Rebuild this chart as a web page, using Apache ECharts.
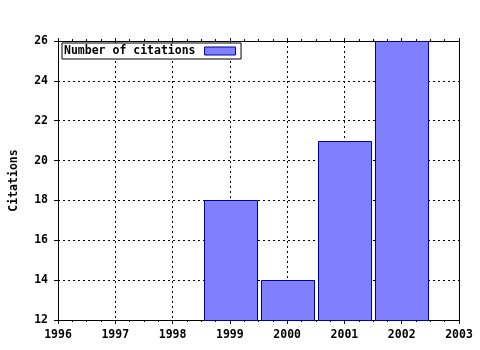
<!DOCTYPE html>
<html><head><meta charset="utf-8">
<script src="https://cdn.jsdelivr.net/npm/echarts@6/dist/echarts.min.js"></script>
<style>html,body{margin:0;padding:0;background:#fff}#c{width:480px;height:350px}</style>
</head><body><div id="c"></div>
<script>
const years = [1999, 2000, 2001, 2002];
const citations = [18, 14, 21, 26];
const xTicks = [1996, 1997, 1998, 1999, 2000, 2001, 2002, 2003];
const yTicks = [12, 14, 16, 18, 20, 22, 24, 26];
const seriesName = 'Number of citations';
const yName = 'Citations';

const font = 'DejaVu Sans Mono';
const yMin = yTicks[0], yMax = yTicks[yTicks.length - 1];
const chart = echarts.init(document.getElementById('c'), null, {renderer: 'canvas'});
const dotted = {color: '#000', width: 1, type: [2, 3]};
chart.setOption({
  animation: false,
  backgroundColor: '#fff',
  grid: {left: 57, right: 21, top: 41, bottom: 30, show: false},
  legend: {
    left: 62, top: 43, padding: [2, 5, 2, 2], itemGap: 0,
    align: 'right', orient: 'horizontal',
    backgroundColor: '#fff', borderColor: '#000', borderWidth: 1,
    itemWidth: 31, itemHeight: 8, icon: 'rect',
    textStyle: {fontFamily: font, fontWeight: 'bold', fontSize: 11.5, color: '#000', padding: [0, 4, 0, 0]},
    data: [{name: seriesName, itemStyle: {color: '#8080ff', borderColor: '#0000a0', borderWidth: 1}}]
  },
  xAxis: [{
    type: 'value', position: 'bottom', min: xTicks[0], max: xTicks[xTicks.length - 1], interval: 1,
    axisLine: {show: true, lineStyle: {color: '#000', width: 1}},
    axisTick: {show: true, length: 4, lineStyle: {color: '#000'}},
    minorTick: {show: true, splitNumber: 4, length: 2, lineStyle: {color: '#000'}},
    axisLabel: {margin: 9, fontFamily: font, fontWeight: 'bold', fontSize: 11.5, color: '#000', formatter: v => String(v)},
    splitLine: {show: true, lineStyle: dotted}
  }, {
    type: 'value', position: 'top', min: xTicks[0], max: xTicks[xTicks.length - 1], interval: 1,
    axisLine: {show: true, onZero: false, lineStyle: {color: '#000', width: 1}},
    axisTick: {show: true, length: 3, lineStyle: {color: '#000'}},
    minorTick: {show: true, splitNumber: 4, length: 2, lineStyle: {color: '#000'}},
    axisLabel: {show: false}, splitLine: {show: false}
  }],
  yAxis: [{
    type: 'value', position: 'left', min: yMin, max: yMax, interval: 2,
    name: yName, nameLocation: 'middle', nameGap: 38, nameRotate: 90,
    nameTextStyle: {fontFamily: font, fontWeight: 'bold', fontSize: 11.5, color: '#000'},
    axisLine: {show: true, onZero: false, lineStyle: {color: '#000', width: 1}},
    axisTick: {show: true, length: 4, lineStyle: {color: '#000'}},
    axisLabel: {margin: 10, fontFamily: font, fontWeight: 'bold', fontSize: 11.5, color: '#000'},
    splitLine: {show: true, lineStyle: dotted}
  }, {
    type: 'value', position: 'right', min: yMin, max: yMax, interval: 2,
    axisLine: {show: true, onZero: false, lineStyle: {color: '#000', width: 1}},
    axisTick: {show: false}, axisLabel: {show: false}, splitLine: {show: false}
  }],
  series: [{
    name: seriesName, type: 'custom', xAxisIndex: 0, yAxisIndex: 0,
    itemStyle: {color: '#8080ff', borderColor: '#0000a0', borderWidth: 1},
    data: years.map((y, i) => [y, citations[i]]),
    renderItem: function (params, api) {
      const x = api.value(0), v = api.value(1);
      const top = api.coord([x, v]);
      const base = api.coord([x, yMin]);
      const w = api.size([1, 0])[0] * 0.92;
      return {
        type: 'rect',
        shape: {x: Math.round(top[0] - w / 2) + 0.5, y: Math.round(top[1]) + 0.5, width: Math.round(w), height: Math.round(base[1] - top[1])},
        style: {fill: '#8080ff', stroke: '#0000a0', lineWidth: 1}
      };
    }
  }]
});
</script></body></html>
